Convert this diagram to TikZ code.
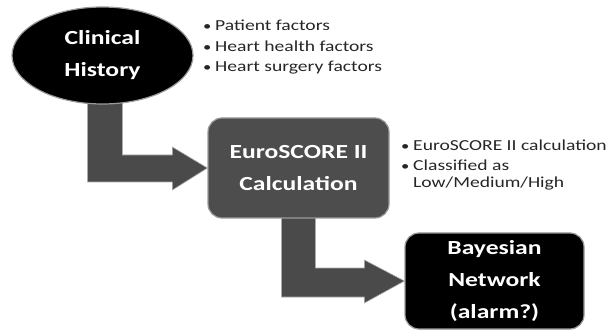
\documentclass[tikz,border=0pt]{standalone}
\usepackage{fontspec}
\setmainfont{Carlito}[FakeStretch=1.28]
\usetikzlibrary{calc,shapes.geometric}
\pgfdeclarelayer{background}
\pgfsetlayers{background,main}

\definecolor{boxgray}{HTML}{4D4D4D}
\definecolor{arrowgray}{HTML}{4A4A4A}
\definecolor{rimgray}{HTML}{9A9A9A}
\definecolor{bullettext}{HTML}{262626}

\tikzset{
  stage/.style={draw=rimgray, line width=1.2pt, text=white, align=center,
    font=\fontsize{20}{32}\selectfont\bfseries, inner sep=0pt},
  ovalstage/.style={stage, ellipse, fill=black, minimum width=181pt, minimum height=97pt},
  boxstage/.style={stage, rectangle, rounded corners=14pt, minimum width=181pt, minimum height=100pt},
  bentarrow/.style={fill=arrowgray, draw=gray!65, line width=0.6pt, line join=miter},
  bulletline/.style={anchor=base west, inner sep=0pt, text=bullettext,
    font=\fontsize{15.3}{17.5}\selectfont},
}
\newcommand{\bulletmark}{\makebox[12pt][l]{\scalebox{0.85}{\textbullet}}}
\newcommand{\bulletgap}{\hspace*{12pt}}

\begin{document}
\begin{tikzpicture}[x=1pt, y=-1pt]
  \useasboundingbox (0,0) rectangle (609,336);

  % stages
  \node[ovalstage] (clin) at (102.5,55.5) {Clinical\\History};
  \node[boxstage, fill=boxgray] (euro) at (298.5,168) {EuroSCORE II\\Calculation};
  \node[boxstage, fill=black, minimum width=179pt, minimum height=96pt] (bayes) at (494.5,281) {Bayesian\\Network\\(alarm?)};

  % notes beside the stages
  \node[bulletline] (n11) at (203,31) {\bulletmark Patient factors};
  \node[bulletline] (n12) at (203,52) {\bulletmark Heart health factors};
  \node[bulletline] (n13) at (203,72) {\bulletmark Heart surgery factors};
  \node[bulletline] (n21) at (401,151) {\bulletmark EuroSCORE II calculation};
  \node[bulletline] (n22) at (401,171) {\bulletmark Classified as};
  \node[bulletline] (n23) at (401,188) {\bulletgap Low/Medium/High};

  % bent arrows between stages, drawn behind the shapes
  \begin{pgfonlayer}{background}
    \draw[bentarrow]
      ($(clin.south)+(-15,-10)$) |- ($(euro.west)+(-35,14)$)
      -- ($(euro.west)+(-35,22)$) -- (euro.west)
      -- ($(euro.west)+(-35,-21)$) -- ($(euro.west)+(-35,-13)$)
      -| ($(clin.south)+(20,-10)$) -- cycle;
    \draw[bentarrow]
      ($(euro.south)+(-17,-8)$) |- ($(bayes.west)+(-40,16)$)
      -- ($(bayes.west)+(-40,22)$) -- (bayes.west)
      -- ($(bayes.west)+(-40,-21)$) -- ($(bayes.west)+(-40,-13)$)
      -| ($(euro.south)+(17,-8)$) -- cycle;
  \end{pgfonlayer}
\end{tikzpicture}
\end{document}
